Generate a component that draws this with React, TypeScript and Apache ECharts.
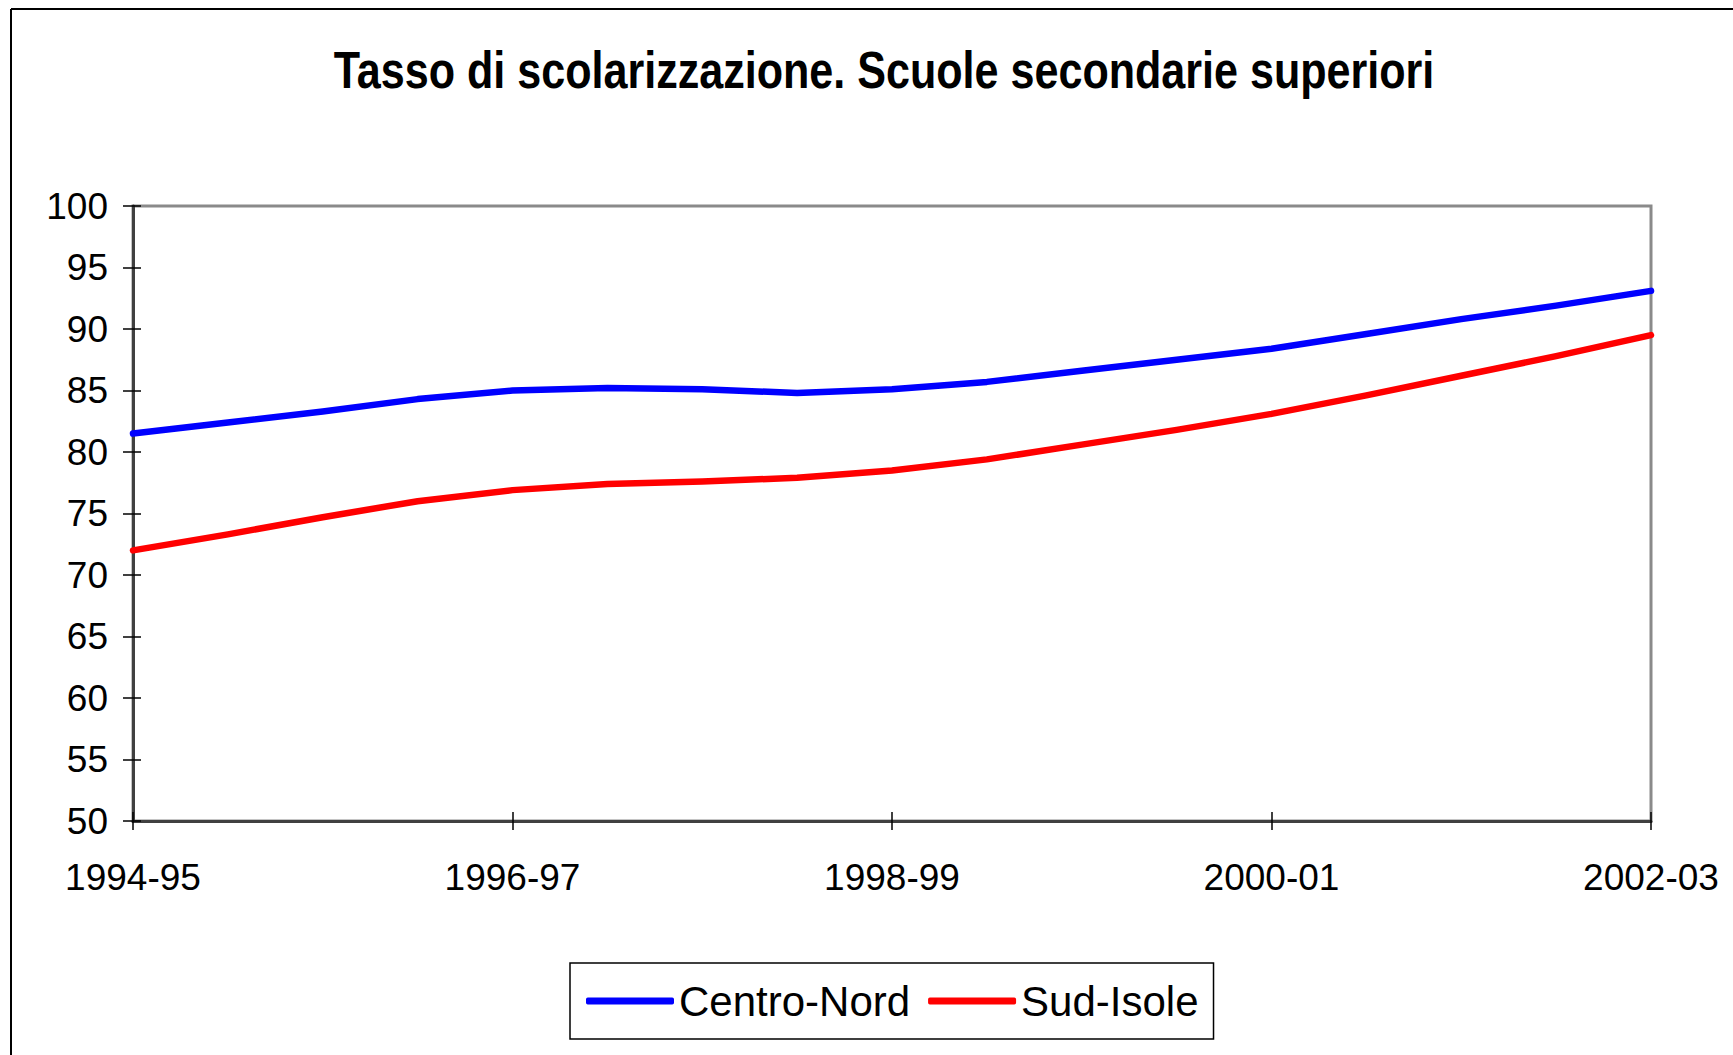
import React, { useEffect, useRef } from "react";
import * as echarts from "echarts";

const titleText = "Tasso di scolarizzazione. Scuole secondarie superiori";
const xTickLabels = ["1994-95", "1996-97", "1998-99", "2000-01", "2002-03"];
const pointsPerLabel = 4;
const seriesNames = ["Centro-Nord", "Sud-Isole"];
const centroNord = [81.5, 82.4, 83.3, 84.3, 85.0, 85.2, 85.1, 84.8, 85.1, 85.7, 86.6, 87.5, 88.4, 89.6, 90.8, 91.9, 93.1];
const sudIsole = [72.0, 73.3, 74.7, 76.0, 76.9, 77.4, 77.6, 77.9, 78.5, 79.4, 80.6, 81.8, 83.1, 84.6, 86.2, 87.8, 89.5];
const yMin = 50;
const yMax = 100;
const yStep = 5;

const FONT = "'Liberation Sans', Arial, sans-serif";

export default function App() {
  const ref = useRef<HTMLDivElement>(null);
  useEffect(() => {
    if (!ref.current) return;
    const chart = echarts.init(ref.current, undefined, { renderer: "svg" });
    const xMax = (xTickLabels.length - 1) * pointsPerLabel;
    const toPairs = (arr: number[]) => arr.map((v, i) => [i, v]);
    chart.setOption({
      animation: false,
      backgroundColor: "#ffffff",
      graphic: [
        { type: "line", shape: { x1: 11, y1: 9, x2: 1733, y2: 9 }, style: { stroke: "#000", lineWidth: 2 } },
        { type: "line", shape: { x1: 11, y1: 9, x2: 11, y2: 1055 }, style: { stroke: "#000", lineWidth: 2 } },
        {
          type: "text",
          x: 884,
          y: 45,
          scaleX: 0.845,
          style: {
            text: titleText,
            textAlign: "center",
            textVerticalAlign: "top",
            fontFamily: FONT,
            fontSize: 51,
            fontWeight: "bold",
            fill: "#000",
          },
        },
      ],
      legend: {
        left: 570,
        top: 963,
        padding: [17, 15, 17, 16],
        borderColor: "#000",
        borderWidth: 1.5,
        itemWidth: 88,
        itemHeight: 7,
        itemGap: 18,
        icon: "roundRect",
        textStyle: { fontFamily: FONT, fontSize: 42, color: "#000" },
        data: seriesNames,
      },
      grid: {
        left: 133,
        top: 206,
        right: 82,
        bottom: 234,
        show: true,
        borderColor: "#8a8a8a",
        borderWidth: 3,
      },
      xAxis: [
        {
          type: "value",
          min: 0,
          max: xMax,
          interval: pointsPerLabel,
          axisLine: { show: true, onZero: false, lineStyle: { color: "#404040", width: 3 } },
          axisTick: { show: true, length: 9, lineStyle: { color: "#000", width: 1.5 } },
          axisLabel: {
            show: true,
            margin: 38,
            fontFamily: FONT,
            fontSize: 37,
            color: "#000",
            showMinLabel: true,
            showMaxLabel: true,
            formatter: (v: number) => xTickLabels[Math.round(v / pointsPerLabel)] ?? "",
          },
          splitLine: { show: false },
        },
        {
          type: "value",
          position: "bottom",
          min: 0,
          max: xMax,
          interval: pointsPerLabel,
          axisLine: { show: false },
          axisTick: { show: true, inside: true, length: 9, lineStyle: { color: "#000", width: 1.5 } },
          axisLabel: { show: false },
          splitLine: { show: false },
        },
      ],
      yAxis: [
        {
          type: "value",
          min: yMin,
          max: yMax,
          interval: yStep,
          axisLine: { show: true, onZero: false, lineStyle: { color: "#404040", width: 3 } },
          axisTick: { show: true, length: 10, lineStyle: { color: "#000", width: 1.5 } },
          axisLabel: { margin: 25, fontFamily: FONT, fontSize: 37, color: "#000" },
          splitLine: { show: false },
        },
        {
          type: "value",
          position: "left",
          min: yMin,
          max: yMax,
          interval: yStep,
          axisLine: { show: false },
          axisTick: { show: true, inside: true, length: 8, lineStyle: { color: "#000", width: 1.5 } },
          axisLabel: { show: false },
          splitLine: { show: false },
        },
      ],
      series: [
        {
          name: seriesNames[0],
          type: "line",
          data: toPairs(centroNord),
          showSymbol: false,
          symbol: "none",
          lineStyle: { color: "#0000ff", width: 6.5, cap: "round", join: "round" },
          itemStyle: { color: "#0000ff" },
          z: 3,
        },
        {
          name: seriesNames[1],
          type: "line",
          data: toPairs(sudIsole),
          showSymbol: false,
          symbol: "none",
          lineStyle: { color: "#ff0000", width: 6.5, cap: "round", join: "round" },
          itemStyle: { color: "#ff0000" },
          z: 3,
        },
      ],
    });
    return () => chart.dispose();
  }, []);
  return (
    <div
      ref={ref}
      style={{ position: "fixed", left: 0, top: 0, width: 1733, height: 1055, background: "#fff" }}
    />
  );
}
